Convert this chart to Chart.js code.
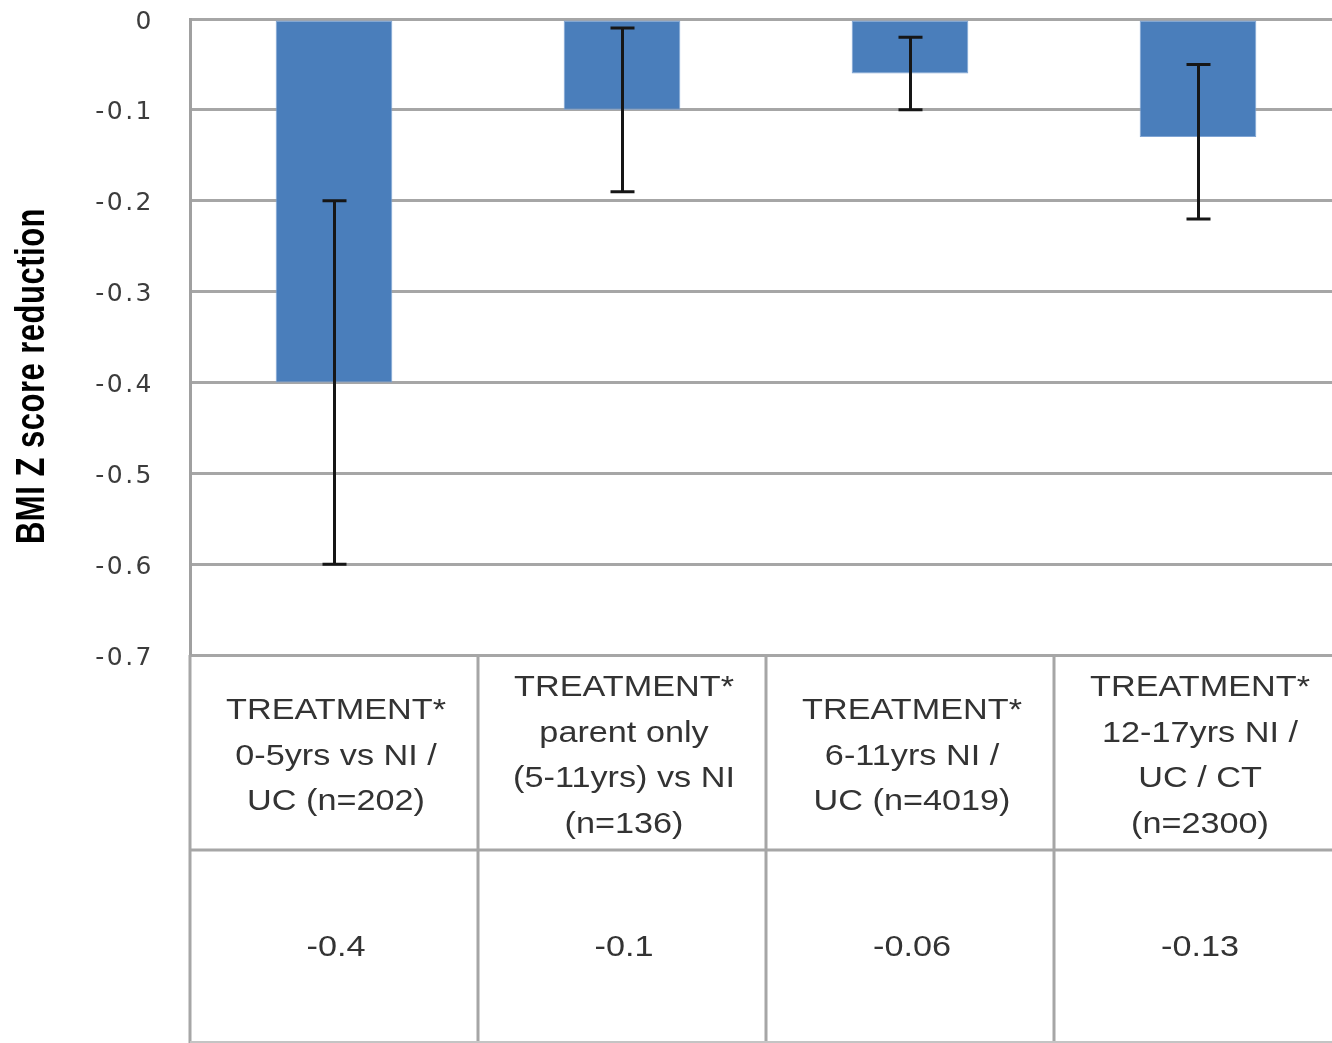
<!DOCTYPE html>
<html>
<head>
<meta charset="utf-8">
<title>BMI Z score reduction by treatment group</title>
<script src="https://cdn.jsdelivr.net/npm/chart.js@4.4.1/dist/chart.umd.min.js"></script>
<style>
  html, body { margin: 0; padding: 0; background: #ffffff; overflow: hidden; }
  #wrap { width: 1346px; height: 1043px; }
</style>
</head>
<body>
<div id="wrap"><canvas id="chart" width="1346" height="1043"></canvas></div>
<script>
// Treatment groups (each entry is the multi-line label shown in the data table)
const categories = [
  ['TREATMENT*', '0-5yrs vs NI /', 'UC (n=202)'],
  ['TREATMENT*', 'parent only', '(5-11yrs) vs NI', '(n=136)'],
  ['TREATMENT*', '6-11yrs NI /', 'UC (n=4019)'],
  ['TREATMENT*', '12-17yrs NI /', 'UC / CT', '(n=2300)']
];
// Mean BMI Z score change per group
const values = [-0.4, -0.1, -0.06, -0.13];
// Confidence interval limits drawn as error bars
const ciUpper = [-0.2, -0.01, -0.02, -0.05];
const ciLower = [-0.6, -0.19, -0.10, -0.22];
// Value axis ticks
const yTickValues = [0, -0.1, -0.2, -0.3, -0.4, -0.5, -0.6, -0.7];
const yTickLabels = ['0', '-0.1', '-0.2', '-0.3', '-0.4', '-0.5', '-0.6', '-0.7'];
const axisTitle = 'BMI Z score reduction';

const GRID = '#a6a6a6';
const TABLE_TOP_ROW_END = 850;

const errorBarsAndTable = {
  id: 'errorBarsAndTable',
  beforeDraw(chart) {
    // slightly open spacing for the value-axis tick labels
    chart.ctx.letterSpacing = '2.5px';
  },
  afterDatasetsDraw(chart) {
    const ctx = chart.ctx;
    const y = chart.scales.y;
    const meta = chart.getDatasetMeta(0);
    ctx.save();
    ctx.strokeStyle = '#161616';
    ctx.lineWidth = 3;
    ctx.lineCap = 'butt';
    meta.data.forEach((bar, i) => {
      const x = Math.round(bar.x) + 0.5;
      const yt = y.getPixelForValue(ciUpper[i]);
      const yb = y.getPixelForValue(ciLower[i]);
      ctx.beginPath();
      ctx.moveTo(x, yt);
      ctx.lineTo(x, yb);
      ctx.moveTo(x - 12, yt);
      ctx.lineTo(x + 12, yt);
      ctx.moveTo(x - 12, yb);
      ctx.lineTo(x + 12, yb);
      ctx.stroke();
    });
    ctx.restore();
  },
  afterDraw(chart) {
    const ctx = chart.ctx;
    const xs = chart.scales.x;
    const area = chart.chartArea;
    const H = chart.height;
    const n = categories.length;
    const cellW = (xs.right - xs.left) / n;
    ctx.save();
    // table grid
    ctx.strokeStyle = GRID;
    ctx.lineWidth = 3;
    ctx.beginPath();
    ctx.moveTo(area.left, area.bottom);
    ctx.lineTo(area.left, H);
    for (let i = 0; i < n; i++) {
      const xb = Math.round(xs.getPixelForValue(i) + cellW / 2);
      ctx.moveTo(xb, area.bottom);
      ctx.lineTo(xb, H);
    }
    ctx.moveTo(area.left, TABLE_TOP_ROW_END);
    ctx.lineTo(chart.width, TABLE_TOP_ROW_END);
    ctx.stroke();
    ctx.strokeStyle = '#c4c4c4';
    ctx.lineWidth = 2;
    ctx.beginPath();
    ctx.moveTo(area.left, H - 1);
    ctx.lineTo(chart.width, H - 1);
    ctx.stroke();

    // table text (wide face, drawn with a horizontal stretch)
    const stretch = 1.18;
    ctx.fillStyle = '#333333';
    ctx.font = '29px "Liberation Sans", Arial, sans-serif';
    ctx.letterSpacing = '0px';
    ctx.textAlign = 'center';
    ctx.textBaseline = 'middle';
    const lineH = 45.5;
    const headMid = (area.bottom + TABLE_TOP_ROW_END) / 2 + 4;
    const valMid = (TABLE_TOP_ROW_END + H) / 2 + 1;
    const drawWide = (t, x, y) => {
      ctx.save();
      ctx.translate(x, y);
      ctx.scale(stretch, 1);
      ctx.fillText(t, 0, 0);
      ctx.restore();
    };
    categories.forEach((lines, i) => {
      const cx = xs.getPixelForValue(i) + 2;
      const startY = headMid - (lines.length - 1) * lineH / 2;
      lines.forEach((t, k) => drawWide(t, cx, startY + k * lineH));
      drawWide(String(values[i]), cx, valMid);
    });

    // value axis title
    ctx.fillStyle = '#000000';
    ctx.font = 'bold 31px "Liberation Sans", Arial, sans-serif';
    ctx.letterSpacing = '0.5px';
    ctx.translate(33, 376);
    ctx.rotate(-Math.PI / 2);
    ctx.scale(1, 1.3);
    ctx.fillText(axisTitle, 0, 0);
    ctx.restore();
  }
};

new Chart(document.getElementById('chart'), {
  type: 'bar',
  data: {
    labels: categories,
    datasets: [{
      data: values,
      backgroundColor: '#4A7EBB',
      borderColor: '#7fa4d3',
      borderWidth: 1,
      borderSkipped: false,
      categoryPercentage: 1,
      barPercentage: 0.405
    }]
  },
  options: {
    responsive: false,
    devicePixelRatio: 1,
    animation: false,
    events: [],
    layout: { padding: { left: 0, top: 19, right: 4, bottom: 0 } },
    plugins: { legend: { display: false }, tooltip: { enabled: false } },
    scales: {
      x: {
        ticks: { display: false },
        grid: { display: false },
        border: { display: false },
        afterFit(scale) { scale.height = 1043 - 655; }
      },
      y: {
        min: -0.7,
        max: 0,
        afterBuildTicks(scale) { scale.ticks = yTickValues.map(v => ({ value: v })); },
        afterFit(scale) {
          scale.width = 190;
          scale.paddingTop = 0;
          scale.paddingBottom = 0;
        },
        ticks: {
          padding: 36,
          labelOffset: 3,
          color: '#3c3c3c',
          font: { family: '"DejaVu Sans", sans-serif', size: 25 },
          callback(value) {
            const idx = yTickValues.findIndex(v => Math.abs(v - value) < 1e-9);
            return idx >= 0 ? yTickLabels[idx] : '';
          }
        },
        grid: { color: GRID, lineWidth: 3, drawTicks: false },
        border: { display: true, color: '#a0a0a0', width: 3 }
      }
    }
  },
  plugins: [errorBarsAndTable]
});
</script>
</body>
</html>
